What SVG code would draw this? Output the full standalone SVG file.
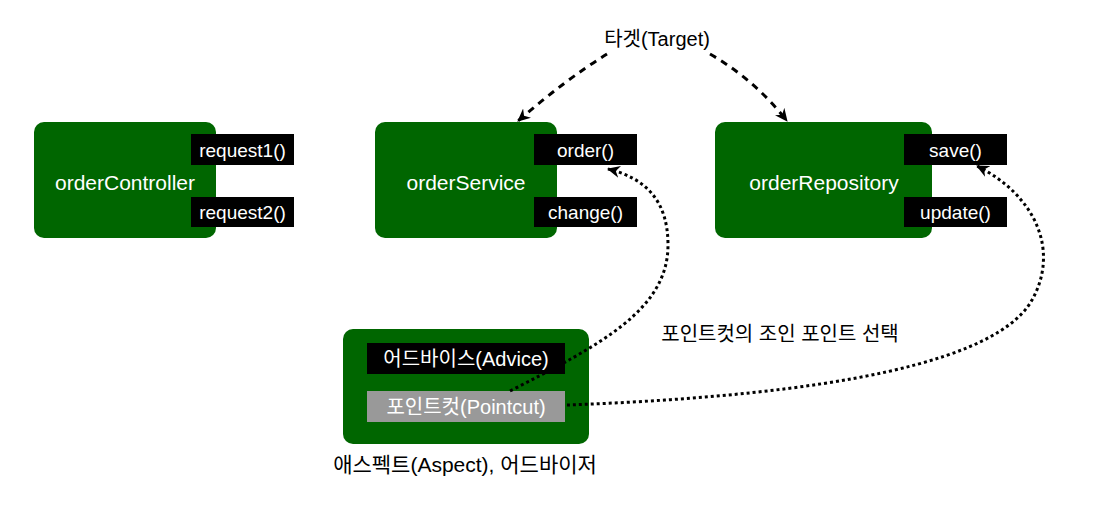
<svg xmlns="http://www.w3.org/2000/svg" width="1097" height="519" viewBox="0 0 1097 519">
<style>
.box{fill:#006600;}
.meth{fill:#000;}
.pc{fill:#999999;}
.t{font-family:"Liberation Sans","Noto Sans CJK KR",sans-serif;text-anchor:middle;}
.wt{fill:#fff;}
.name{font-size:21px;}
.m{font-size:19px;}
.lbl{font-size:20px;fill:#000;}
.dash{fill:none;stroke:#000;stroke-width:3;stroke-dasharray:7 6;}
.dot{fill:none;stroke:#000;stroke-width:3;stroke-dasharray:3 3;}
</style>
<defs>
<marker id="ah" markerUnits="userSpaceOnUse" markerWidth="14" markerHeight="14" viewBox="0 0 14 14" refX="12" refY="7" orient="auto">
<path d="M0,1 L13,7 L0,13 L4,7 Z" fill="#000"/>
</marker>
</defs>
<rect width="1097" height="519" fill="#fff"/>
<g id="orderController">
<rect class="box" x="34" y="122" width="182" height="116" rx="10"/>
<text class="t wt name" x="125" y="190">orderController</text>
<rect class="meth" x="191" y="134" width="103" height="31"/>
<text class="t wt m" x="242.500" y="156.500">request1()</text>
<rect class="meth" x="191" y="197" width="103" height="30"/>
<text class="t wt m" x="242.500" y="219">request2()</text>
</g>
<g id="orderService">
<rect class="box" x="375" y="122" width="182" height="116" rx="10"/>
<text class="t wt name" x="466" y="190">orderService</text>
<rect class="meth" x="534" y="134" width="103" height="31"/>
<text class="t wt m" x="585.500" y="156.500">order()</text>
<rect class="meth" x="534" y="197" width="103" height="30"/>
<text class="t wt m" x="585.500" y="219">change()</text>
</g>
<g id="orderRepository">
<rect class="box" x="715" y="122" width="217" height="116" rx="10"/>
<text class="t wt name" x="824" y="190">orderRepository</text>
<rect class="meth" x="904" y="134" width="103" height="31"/>
<text class="t wt m" x="955.500" y="156.500">save()</text>
<rect class="meth" x="904" y="197" width="103" height="30"/>
<text class="t wt m" x="955.500" y="219">update()</text>
</g>
<g id="aspect">
<rect class="box" x="343" y="329" width="246" height="115" rx="10"/>
<rect class="meth" x="367" y="343" width="198" height="31"/>
<text class="t wt m" x="466" y="365.500" style="font-size:20px">어드바이스(Advice)</text>
<rect class="pc" x="367" y="391" width="198" height="31"/>
<text class="t wt m" x="466" y="413.500" style="font-size:20px">포인트컷(Pointcut)</text>
<text class="t lbl" x="465" y="472" style="font-size:21px">애스펙트(Aspect), 어드바이저</text>
</g>
<g id="target">
<text class="t lbl" x="657" y="46">타겟(Target)</text>
</g>
<g id="jpLabel">
<text class="t lbl" x="780" y="341">포인트컷의 조인 포인트 선택</text>
</g>
<g id="connectors">
<path class="dash" d="M607,54 Q565,80 518,121" marker-end="url(#ah)"/>
<path class="dash" d="M710,54 Q755,80 787,121" marker-end="url(#ah)"/>
<path class="dot" d="M510,391 C600,345 668,310 668,245 C668,200 645,178 608,169" marker-end="url(#ah)"/>
<path class="dot" d="M567,405 C760,398 990,375 1032,300 C1060,250 1035,195 977,166" marker-end="url(#ah)"/>
</g>
</svg>
